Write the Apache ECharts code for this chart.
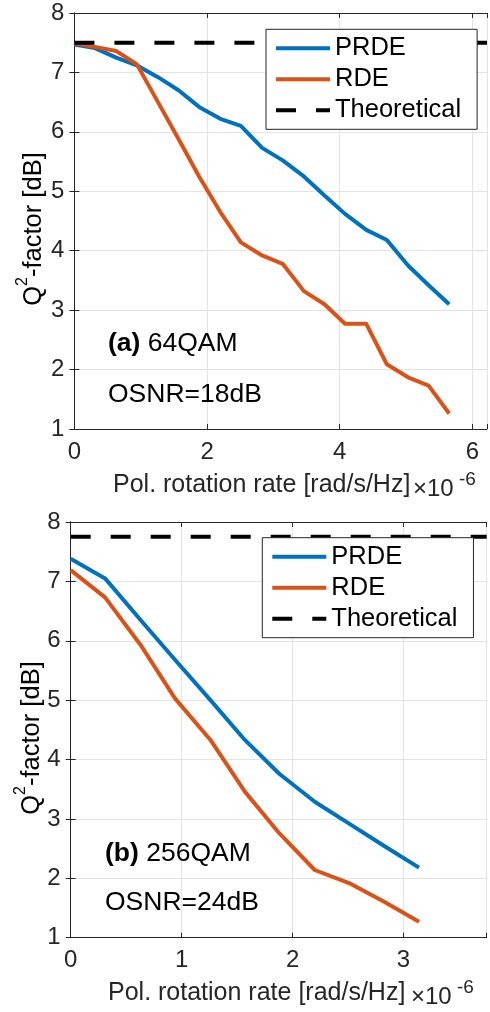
<!DOCTYPE html>
<html><head><meta charset="utf-8">
<script src="https://cdn.jsdelivr.net/npm/echarts@6/dist/echarts.min.js"></script>
<style>html,body{margin:0;padding:0;background:#fff}#c{width:490px;height:1012px}</style>
</head><body><div id="c"></div>
<script>
// Panel (a) 64QAM, OSNR=18dB
const xA = [0, 0.31, 0.63, 0.94, 1.26, 1.57, 1.88, 2.2, 2.51, 2.83, 3.14, 3.46, 3.77, 4.08, 4.4, 4.71, 5.03, 5.34, 5.65];
const prdeA = [7.47, 7.41, 7.25, 7.12, 6.92, 6.70, 6.42, 6.22, 6.10, 5.73, 5.52, 5.25, 4.93, 4.62, 4.35, 4.18, 3.75, 3.42, 3.10];
const rdeA = [7.49, 7.43, 7.36, 7.14, 6.50, 5.88, 5.25, 4.65, 4.14, 3.92, 3.78, 3.32, 3.10, 2.77, 2.77, 2.09, 1.87, 1.73, 1.26];
const theoA = 7.5;
const xRangeA = [0, 6.22];
const xTicksA = [0, 2, 4, 6];

// Panel (b) 256QAM, OSNR=24dB
const xB = [0, 0.31, 0.63, 0.94, 1.26, 1.57, 1.88, 2.2, 2.51, 2.83, 3.14];
const prdeB = [7.38, 7.05, 6.35, 5.68, 5.00, 4.33, 3.76, 3.29, 2.92, 2.54, 2.18];
const rdeB = [7.19, 6.73, 5.93, 5.03, 4.33, 3.46, 2.76, 2.14, 1.92, 1.60, 1.27];
const theoB = 7.75;
const xRangeB = [0, 3.75];
const xTicksB = [0, 1, 2, 3];

const yRange = [1, 8];
const yTicks = [1, 2, 3, 4, 5, 6, 7, 8];
const seriesNames = ['PRDE', 'RDE', 'Theoretical'];
const colors = ['#0072BD', '#D95319', '#000000'];

const FONT = '"Liberation Sans", Arial, Helvetica, sans-serif';
const AX = '#262626';

function zip(x, y) { return x.map((v, i) => [v, y[i]]); }

const grids = [
  {left: 74.4, right: 1, top: 13, bottom: 583},
  {left: 70.7, right: 3.3, top: 522, bottom: 74.3}
];

function mainX(gi, range, interval, ticks) {
  return {
    type: 'value', gridIndex: gi, min: range[0], max: range[1], interval: interval,
    axisLine: {show: true, lineStyle: {color: AX, width: 1}},
    axisTick: {show: true, inside: true, length: 5, lineStyle: {color: AX}},
    axisLabel: {show: true, margin: 11, color: AX, fontSize: 24, fontFamily: FONT,
      formatter: v => ticks.includes(v) ? String(v) : ''},
    splitLine: {show: true, lineStyle: {color: '#e3e3e3', width: 1}}
  };
}
function topX(gi, range, interval) {
  return {
    type: 'value', gridIndex: gi, position: 'top', min: range[0], max: range[1], interval: interval,
    axisLine: {show: true, lineStyle: {color: AX, width: 1}},
    axisTick: {show: true, inside: true, length: 5, lineStyle: {color: AX}},
    axisLabel: {show: false}, splitLine: {show: false}
  };
}
function mainY(gi) {
  return {
    type: 'value', gridIndex: gi, min: yRange[0], max: yRange[1], interval: 1,
    axisLine: {show: true, lineStyle: {color: AX, width: 1}},
    axisTick: {show: true, inside: true, length: 5, lineStyle: {color: AX}},
    axisLabel: {show: true, margin: 10, color: AX, fontSize: 24, fontFamily: FONT,
      formatter: v => yTicks.includes(v) ? String(v) : ''},
    splitLine: {show: true, lineStyle: {color: '#e3e3e3', width: 1}}
  };
}
function rightY(gi) {
  return {
    type: 'value', gridIndex: gi, position: 'right', min: yRange[0], max: yRange[1], interval: 1,
    axisLine: {show: true, lineStyle: {color: AX, width: 1}},
    axisTick: {show: true, inside: true, length: 5, lineStyle: {color: AX}},
    axisLabel: {show: false}, splitLine: {show: false}
  };
}

function lineSeries(name, data, xi, yi, color, z, dash) {
  return {
    name: name, type: 'line', xAxisIndex: xi, yAxisIndex: yi, data: data,
    symbol: 'none', showSymbol: false, silent: true, animation: false, z: z,
    lineStyle: {color: color, width: 4, type: dash ? [20, 20] : 'solid', cap: 'butt', join: 'round'},
    itemStyle: {color: color}
  };
}

const series = [
  lineSeries(seriesNames[0], zip(xA, prdeA), 0, 0, colors[0], 2),
  lineSeries(seriesNames[1], zip(xA, rdeA), 0, 0, colors[1], 3),
  lineSeries(seriesNames[2], [[xRangeA[0], theoA], [xRangeA[1], theoA]], 0, 0, colors[2], 4, true),
  lineSeries(seriesNames[0], zip(xB, prdeB), 2, 2, colors[0], 2),
  lineSeries(seriesNames[1], zip(xB, rdeB), 2, 2, colors[1], 3),
  lineSeries(seriesNames[2], [[xRangeB[0], theoB], [xRangeB[1], theoB]], 2, 2, colors[2], 4, true)
];

function legendAt(left, top) {
  return {
    left: left, top: top, orient: 'vertical', data: seriesNames,
    itemWidth: 54, itemHeight: 14, itemGap: 5,
    padding: [6, 16, 6, 8], borderColor: AX, borderWidth: 1, backgroundColor: '#fff',
    borderRadius: 0, selectedMode: false, z: 10,
    itemStyle: {opacity: 0, borderWidth: 0},
    lineStyle: {width: 4},
    textStyle: {fontSize: 25.5, color: '#000', fontFamily: FONT, lineHeight: 25}
  };
}

const rich = {
  a: {fontSize: 25.5, fontFamily: FONT, color: AX, lineHeight: 32, verticalAlign: 'bottom'},
  s: {fontSize: 16, fontFamily: FONT, color: AX, lineHeight: 32, verticalAlign: 'top'}
};
const richAnn = {
  b: {fontSize: 26.5, fontWeight: 'bold', fontFamily: FONT, color: '#000'},
  n: {fontSize: 26.5, fontFamily: FONT, color: '#000'}
};

function textEl(x, y, text, opts) {
  return Object.assign({type: 'text', x: x, y: y, z: 20, silent: true,
    style: Object.assign({text: text, fontFamily: FONT, fill: '#000', verticalAlign: 'middle', align: 'left'}, opts || {})});
}

const graphic = [
  // Y labels
  {type: 'text', x: 31, y: 229, rotation: Math.PI / 2, z: 20, silent: true,
    style: {text: '{a|Q}{s|2}{a|-factor [dB]}', rich: rich, align: 'center', verticalAlign: 'middle'}},
  {type: 'text', x: 29, y: 738, rotation: Math.PI / 2, z: 20, silent: true,
    style: {text: '{a|Q}{s|2}{a|-factor [dB]}', rich: rich, align: 'center', verticalAlign: 'middle'}},
  // X labels
  textEl(113, 485, 'Pol. rotation rate [rad/s/Hz]', {fontSize: 25, fill: AX}),
  textEl(413, 489, '×10', {fontSize: 24, fill: AX}),
  textEl(459, 480, '-6', {fontSize: 19, fill: AX}),
  textEl(108, 993, 'Pol. rotation rate [rad/s/Hz]', {fontSize: 25, fill: AX}),
  textEl(411, 997, '×10', {fontSize: 24, fill: AX}),
  textEl(457, 988, '-6', {fontSize: 19, fill: AX}),
  // Annotations
  textEl(108, 344, '{b|(a)}{n| 64QAM}', {rich: richAnn}),
  textEl(108, 395, 'OSNR=18dB', {fontSize: 26.5}),
  textEl(105, 854, '{b|(b)}{n| 256QAM}', {rich: richAnn}),
  textEl(105, 903, 'OSNR=24dB', {fontSize: 26.5})
];

const chart = echarts.init(document.getElementById('c'), null, {renderer: 'canvas'});
chart.setOption({
  animation: false,
  backgroundColor: '#fff',
  grid: grids,
  xAxis: [mainX(0, xRangeA, 2, xTicksA), topX(0, xRangeA, 2), mainX(1, xRangeB, 1, xTicksB), topX(1, xRangeB, 1)],
  yAxis: [mainY(0), rightY(0), mainY(1), rightY(1)],
  legend: [legendAt(266, 29.3), legendAt(262.3, 537.7)],
  series: series,
  graphic: graphic
});
</script></body></html>
